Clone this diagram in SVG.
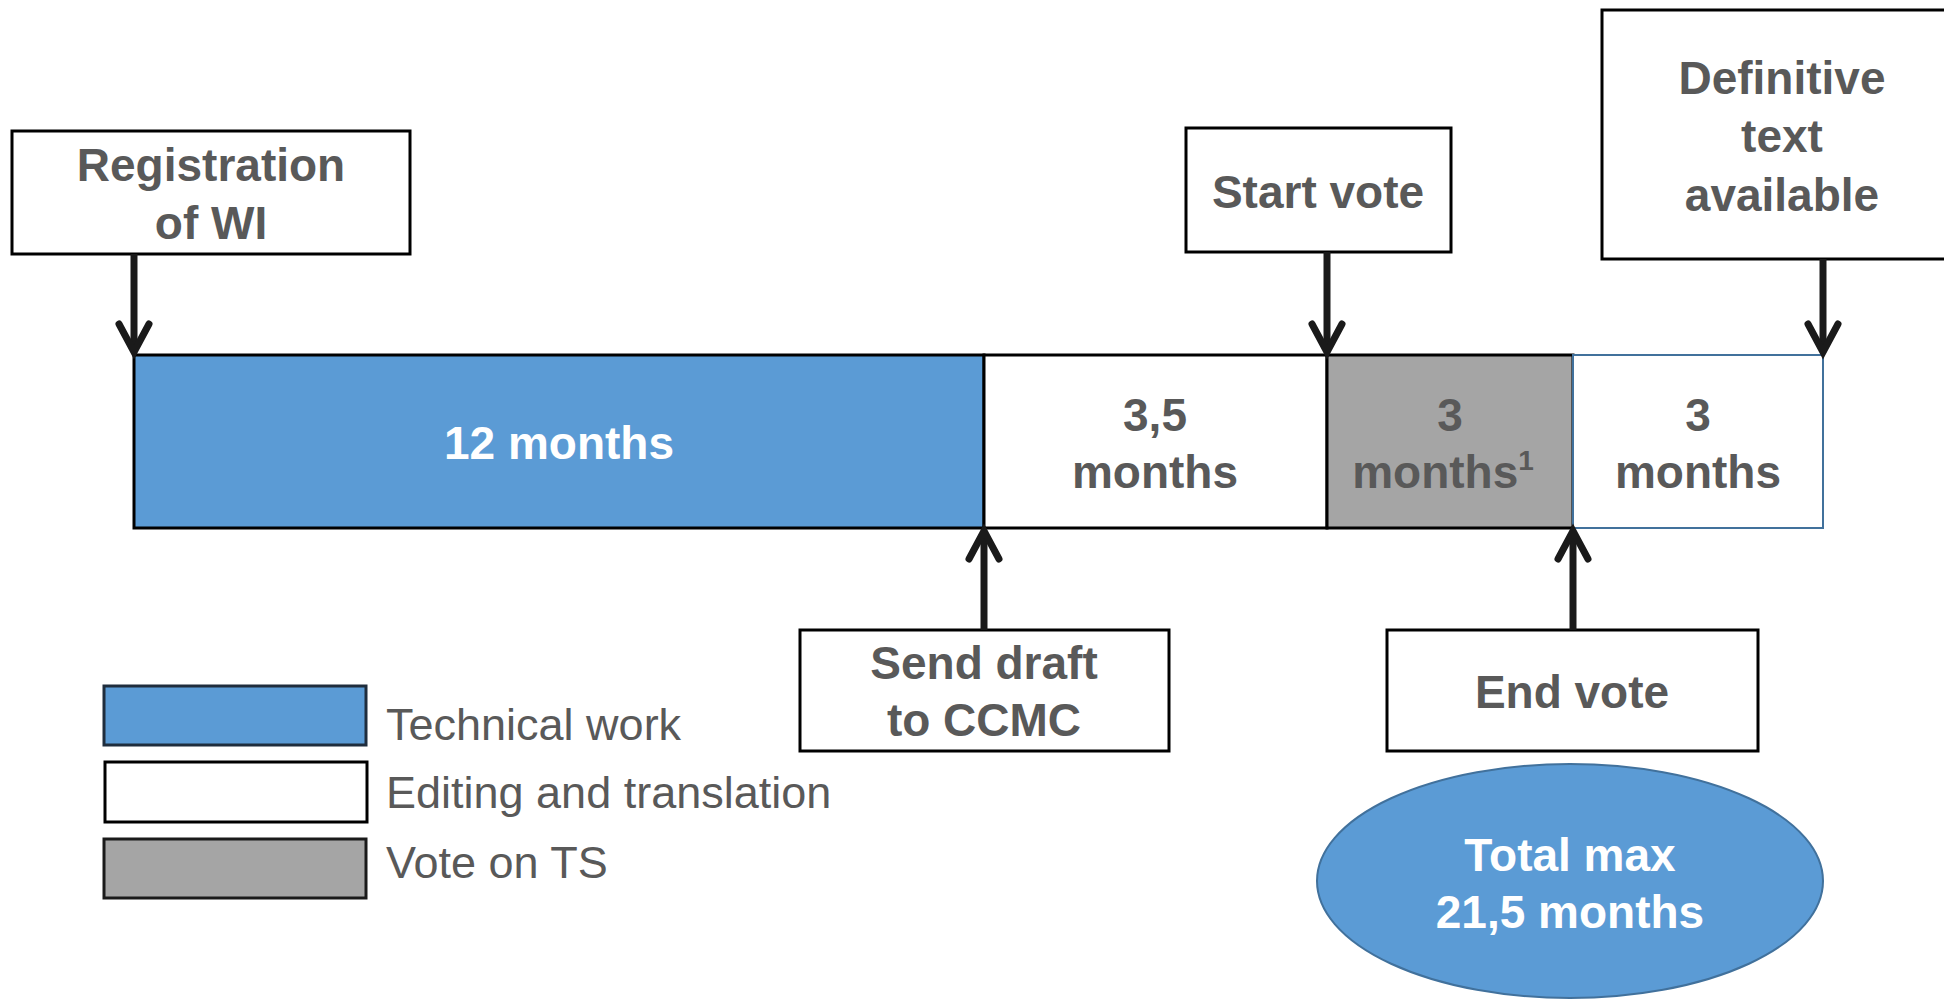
<svg xmlns="http://www.w3.org/2000/svg" width="1944" height="1000" viewBox="0 0 1944 1000">
<style>
.box{fill:#fff;stroke:#000;stroke-width:3}
.seg{stroke:#000;stroke-width:3}
.lbl{font-family:"Liberation Sans",Arial,sans-serif;font-weight:bold;font-size:46px;fill:#595959;text-anchor:middle}
.wl{fill:#fff}
.leg{font-family:"Liberation Sans",Arial,sans-serif;font-size:45px;fill:#595959}
.conn{stroke:#1a1a1a;stroke-width:7;fill:none;marker-end:url(#chev)}
</style>
<defs>
<marker id="chev" markerUnits="userSpaceOnUse" orient="auto" refX="0" refY="0" markerWidth="40" markerHeight="40" overflow="visible">
<path d="M-28,-15 L0,0 L-28,15" fill="none" stroke="#1a1a1a" stroke-width="7" stroke-linecap="round" stroke-linejoin="miter"/>
</marker>
</defs>

<g id="timeline">
<rect class="seg" x="134" y="355" width="850" height="173" fill="#5B9BD5"/>
<rect class="seg" x="984" y="355" width="343" height="173" fill="#fff"/>
<rect class="seg" x="1327" y="355" width="246" height="173" fill="#A5A5A5"/>
<rect x="1573" y="355" width="250" height="173" fill="#fff" stroke="#41719C" stroke-width="2"/>
<text class="lbl wl" x="559" y="459">12 months</text>
<text class="lbl" x="1155" y="431">3,5</text>
<text class="lbl" x="1155" y="488">months</text>
<text class="lbl" x="1450" y="431">3</text>
<text class="lbl" x="1443" y="488">months<tspan font-size="28" dy="-18">1</tspan></text>
<text class="lbl" x="1698" y="431">3</text>
<text class="lbl" x="1698" y="488">months</text>
</g>

<g id="registration">
<rect class="box" x="12" y="131" width="398" height="123"/>
<text class="lbl" x="211" y="181">Registration</text>
<text class="lbl" x="211" y="239">of WI</text>
</g>

<g id="start-vote">
<rect class="box" x="1186" y="128" width="265" height="124"/>
<text class="lbl" x="1318" y="208">Start vote</text>
</g>

<g id="definitive">
<rect class="box" x="1602" y="10" width="360" height="249"/>
<text class="lbl" x="1782" y="94">Definitive</text>
<text class="lbl" x="1782" y="152">text</text>
<text class="lbl" x="1782" y="211">available</text>
</g>

<g id="send-draft">
<rect class="box" x="800" y="630" width="369" height="121"/>
<text class="lbl" x="984" y="679">Send draft</text>
<text class="lbl" x="984" y="736">to CCMC</text>
</g>

<g id="end-vote">
<rect class="box" x="1387" y="630" width="371" height="121"/>
<text class="lbl" x="1572" y="708">End vote</text>
</g>

<g id="total">
<ellipse cx="1570" cy="881" rx="253" ry="117" fill="#5B9BD5" stroke="#41719C" stroke-width="2"/>
<text class="lbl wl" x="1570" y="871">Total max</text>
<text class="lbl wl" x="1570" y="928">21,5 months</text>
</g>

<g id="legend">
<rect x="104" y="686" width="262" height="59" fill="#5B9BD5" stroke="#1f2d3d" stroke-width="3"/>
<rect x="105" y="762" width="262" height="60" fill="#fff" stroke="#000" stroke-width="3"/>
<rect x="104" y="839" width="262" height="59" fill="#A5A5A5" stroke="#1a1a1a" stroke-width="3"/>
<text class="leg" x="386" y="740">Technical work</text>
<text class="leg" x="386" y="808">Editing and translation</text>
<text class="leg" x="386" y="878">Vote on TS</text>
</g>

<g id="connectors">
<path class="conn" d="M134,254 L134,352"/>
<path class="conn" d="M1327,252 L1327,352"/>
<path class="conn" d="M1823,259 L1823,352"/>
<path class="conn" d="M984,630 L984,531"/>
<path class="conn" d="M1573,630 L1573,531"/>
</g>
</svg>
